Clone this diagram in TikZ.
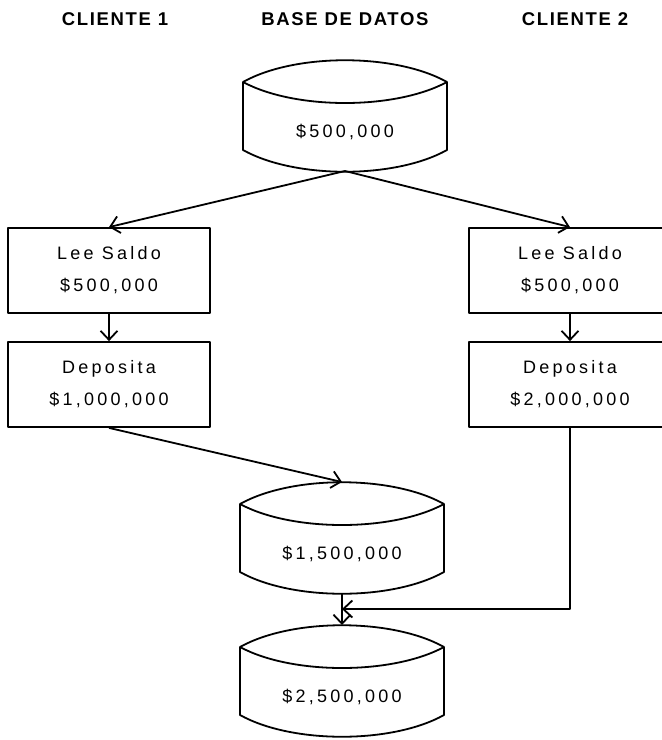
\documentclass[tikz,border=0pt]{standalone}
\usepackage{fontspec}
\setmainfont{Liberation Sans}
\newfontfamily\hdrfont[LetterSpace=9]{Liberation Sans}
\newfontfamily\boxfont[LetterSpace=18]{Liberation Sans}
\usetikzlibrary{arrows.meta}

% Database drum: name, centre x, y of the upper corners, label
\newcommand\dbdrum[4]{%
  \draw (#2-102,#3) -- (#2-102,#3+68)
        .. controls (#2-50,#3+97) and (#2+50,#3+97) .. (#2+102,#3+68)
        -- (#2+102,#3)
        .. controls (#2+50,#3-29) and (#2-50,#3-29) .. cycle;
  \draw (#2+102,#3) .. controls (#2+50,#3+28) and (#2-50,#3+28) .. (#2-102,#3);
  \coordinate (#1top) at (#2,#3-22);
  \coordinate (#1bot) at (#2,#3+89);
  \node[drumtext] (#1) at (#2,#3+50) {#4};
}

\begin{document}
\begin{tikzpicture}[x=1pt,y=-1pt,line width=1.8pt,line join=round,
  hdr/.style={font=\hdrfont\bfseries\fontsize{18.5}{20}\selectfont,anchor=base,inner sep=0pt},
  stepbox/.style={draw,minimum width=202pt,minimum height=85pt,inner sep=0pt,align=center,
    font=\boxfont\fontsize{18}{32}\selectfont},
  drumtext/.style={inner sep=0pt,font=\boxfont\fontsize{18}{20}\selectfont},
  arr/.style={-{Straight Barb[length=9pt,width=17pt,line width=1.8pt]}}]
\useasboundingbox (0,0) rectangle (662,740);
\clip (0,0) rectangle (662,740);

% column headings
\node[hdr] (h1) at (115,25) {CLIENTE 1};
\node[hdr] (h2) at (345,25) {BASE DE DATOS};
\node[hdr] (h3) at (575,25) {CLIENTE 2};

% database states
\dbdrum{db0}{345}{82}{\$500,000}
\dbdrum{db1}{342}{504}{\$1,500,000}
\dbdrum{db2}{342}{647}{\$2,500,000}

% client operations
\node[stepbox] (l1) at (109,270.5) {Lee Saldo\\\$500,000};
\node[stepbox] (l2) at (109,384.5) {Deposita\\\$1,000,000};
\node[stepbox] (r1) at (570,270.5) {Lee Saldo\\\$500,000};
\node[stepbox] (r2) at (570,384.5) {Deposita\\\$2,000,000};

\coordinate (join) at (342,609);

% flow
\draw[arr] (db0bot) -- (l1.north);
\draw[arr] (db0bot) -- (r1.north);
\draw[arr] (l1.south) -- (l2.north);
\draw[arr] (r1.south) -- (r2.north);
\draw[arr] (l2.south) -- (db1top);
\draw[arr] (r2.south) |- (join);
\draw[arr] (db1bot) -- (db2top);
\end{tikzpicture}
\end{document}
